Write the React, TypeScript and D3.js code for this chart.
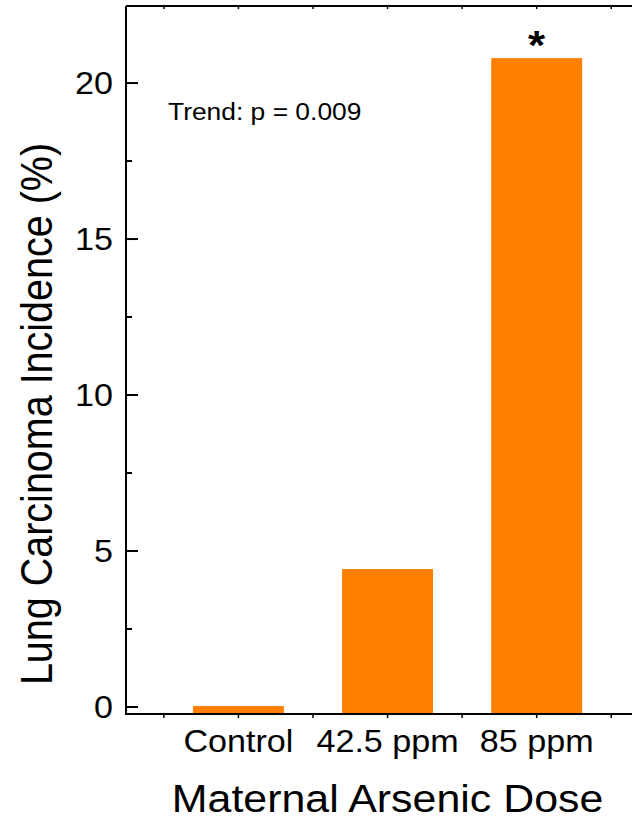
import { useMemo } from 'react';
import * as d3 from 'd3';

const categories = ['Control', '42.5 ppm', '85 ppm'];
const incidence = [0.03, 4.42, 20.8];
const majorTicks = [0, 5, 10, 15, 20];
const minorTicks = [2.5, 7.5, 12.5, 17.5];
const xTickPositions = [0.5, 1, 1.5, 2, 2.5, 3, 3.5];
const significant = [false, false, true];

const WIDTH = 632;
const HEIGHT = 820;
const FONT = 'Liberation Sans, Arial, sans-serif';
const ORANGE = '#ff8000';
// the original figure's text is a bit wider than tall
const SX = 1.1;

const at = (px: number, py: number, extra = '') => `translate(${px},${py}) scale(${SX},1)${extra}`;

export default function App() {
  const x = useMemo(() => d3.scaleLinear().domain([0.246, 3.76]).range([126, 650]), []);
  const y = useMemo(() => d3.scaleLinear().domain([-0.225, 22.47]).range([714, 6]), []);
  const barWidth = 0.61 * (x(2) - x(1));
  const [x0] = x.range();
  const [yBottom, yTop] = y.range();

  return (
    <svg
      width={WIDTH}
      height={HEIGHT}
      style={{ position: 'absolute', left: 0, top: 0, background: '#fff' }}
      fontFamily={FONT}
    >
      {incidence.map((value, i) => (
        <rect
          key={categories[i]}
          x={x(i + 1) - barWidth / 2}
          y={y(value)}
          width={barWidth}
          height={yBottom - y(value)}
          fill={ORANGE}
        />
      ))}

      {significant.map((flag, i) =>
        flag ? (
          <text
            key={'sig' + i}
            transform={at(x(i + 1), y(incidence[i]) + 1)}
            textAnchor="middle"
            fontSize={40}
            fontWeight="bold"
          >
            *
          </text>
        ) : null
      )}

      {/* frame */}
      <line x1={x0} x2={WIDTH} y1={yBottom} y2={yBottom} stroke="#000" strokeWidth={2} />
      <line x1={x0} x2={WIDTH} y1={yTop} y2={yTop} stroke="#000" strokeWidth={2} />
      <line x1={x0} x2={x0} y1={yTop} y2={yBottom + 1} stroke="#000" strokeWidth={2} />

      {xTickPositions.map((t) => (
        <g key={'xt' + t}>
          <line x1={x(t)} x2={x(t)} y1={yBottom} y2={yBottom + 4} stroke="#000" strokeWidth={1.5} />
          <line x1={x(t)} x2={x(t)} y1={yTop} y2={yTop + 3} stroke="#000" strokeWidth={1.5} />
        </g>
      ))}

      {majorTicks.map((t) => (
        <g key={'yt' + t}>
          <line x1={x0} x2={x0 + 12} y1={y(t)} y2={y(t)} stroke="#000" strokeWidth={2} />
          <text transform={at(113, y(t))} dy="0.36em" textAnchor="end" fontSize={31}>
            {t}
          </text>
        </g>
      ))}
      {minorTicks.map((t) => (
        <line key={'ym' + t} x1={x0} x2={x0 + 6} y1={y(t)} y2={y(t)} stroke="#000" strokeWidth={2} />
      ))}

      {categories.map((c, i) => (
        <text key={c} transform={at(x(i + 1), 752)} textAnchor="middle" fontSize={31}>
          {c}
        </text>
      ))}

      <text transform={at(x(2), 812)} textAnchor="middle" fontSize={39}>
        Maternal Arsenic Dose
      </text>
      <text transform={at(52, 414, ' rotate(-90)')} textAnchor="middle" fontSize={39.5}>
        Lung Carcinoma Incidence (%)
      </text>

      <text transform={at(168, 120)} fontSize={24}>
        Trend: p = 0.009
      </text>
    </svg>
  );
}
